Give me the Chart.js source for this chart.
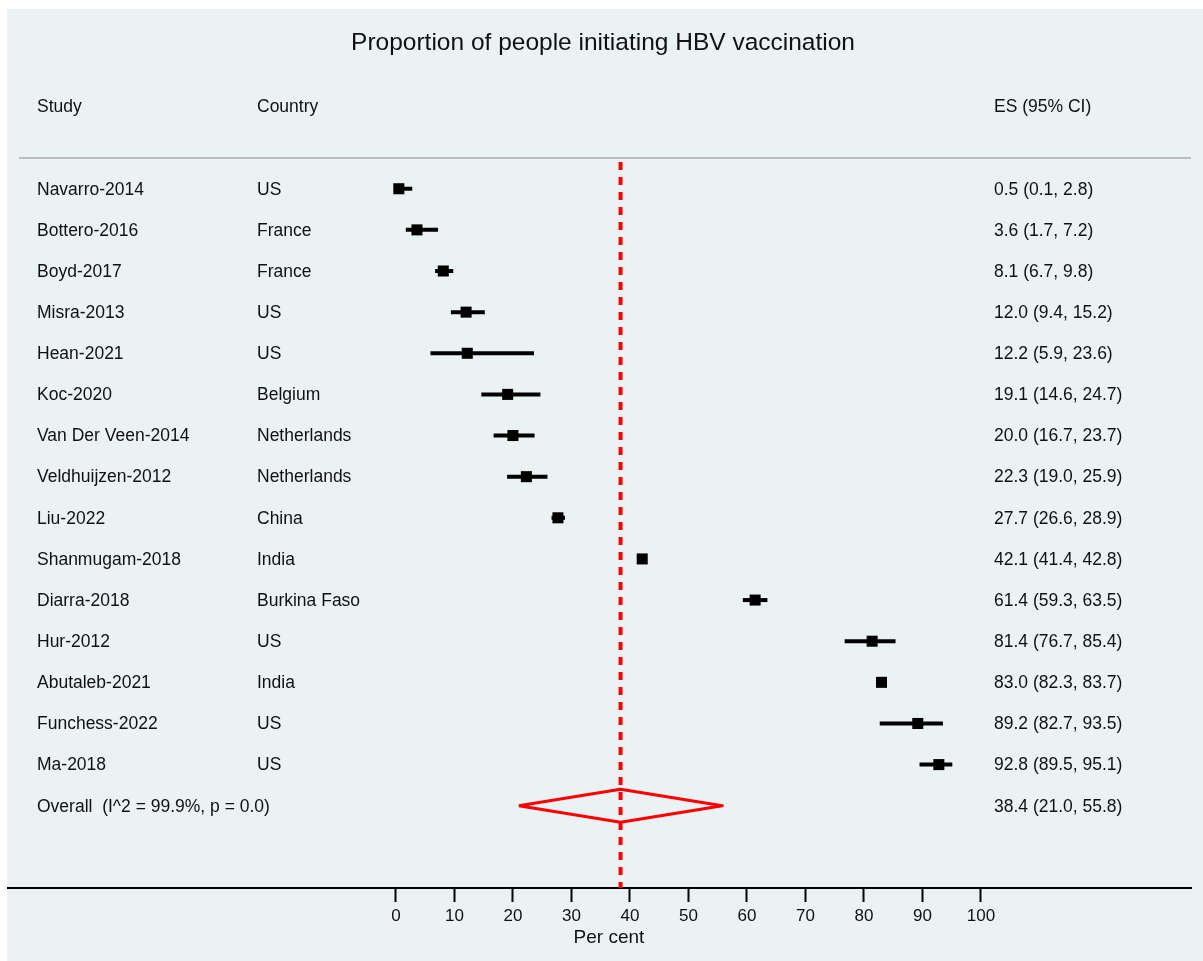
<!DOCTYPE html>
<html>
<head>
<meta charset="utf-8">
<script src="https://cdn.jsdelivr.net/npm/chart.js@4.4.1/dist/chart.umd.min.js"></script>
<style>
  body { margin: 0; background: #fff; }
  canvas { display: block; }
</style>
</head>
<body>
<canvas id="forest" width="1203" height="961"></canvas>
<script>
const studies = ['Navarro-2014', 'Bottero-2016', 'Boyd-2017', 'Misra-2013', 'Hean-2021',
    'Koc-2020', 'Van Der Veen-2014', 'Veldhuijzen-2012', 'Liu-2022', 'Shanmugam-2018',
    'Diarra-2018', 'Hur-2012', 'Abutaleb-2021', 'Funchess-2022', 'Ma-2018'];
const countries = ['US', 'France', 'France', 'US', 'US', 'Belgium', 'Netherlands',
    'Netherlands', 'China', 'India', 'Burkina Faso', 'US', 'India', 'US', 'US'];
const esValues = [0.5, 3.6, 8.1, 12.0, 12.2, 19.1, 20.0, 22.3, 27.7, 42.1, 61.4, 81.4, 83.0, 89.2, 92.8];
const ciLow = [0.1, 1.7, 6.7, 9.4, 5.9, 14.6, 16.7, 19.0, 26.6, 41.4, 59.3, 76.7, 82.3, 82.7, 89.5];
const ciHigh = [2.8, 7.2, 9.8, 15.2, 23.6, 24.7, 23.7, 25.9, 28.9, 42.8, 63.5, 85.4, 83.7, 93.5, 95.1];
const overall = [38.4, 21.0, 55.8]; // es, low, high
const overallLabel = 'Overall  (I^2 = 99.9%, p = 0.0)';
const tickVals = [0, 10, 20, 30, 40, 50, 60, 70, 80, 90, 100];

const FONT = "'Liberation Sans', Arial, sans-serif";
const fmt = (v) => v.toFixed(1);

const overallRow = studies.length;
const yMin = -0.65, yMax = 17.0;

// one short line per confidence interval
const ciSets = studies.map((s, i) => ({
    data: [{ x: ciLow[i], y: i }, { x: ciHigh[i], y: i }],
    showLine: true,
    borderColor: '#000',
    borderWidth: 4,
    borderCapStyle: 'butt',
    pointRadius: 0,
    order: 1
}));

const datasets = [
    {
        data: esValues.map((v, i) => ({ x: v, y: i })),
        pointStyle: 'rect',
        pointRadius: 7.8,
        backgroundColor: '#000',
        borderWidth: 0,
        order: 0
    },
    ...ciSets,
    {
        data: [
            { x: overall[1], y: overallRow },
            { x: overall[0], y: overallRow - 0.4 },
            { x: overall[2], y: overallRow },
            { x: overall[0], y: overallRow + 0.4 },
            { x: overall[1], y: overallRow }
        ],
        showLine: true,
        borderColor: '#ff0000',
        borderWidth: 3,
        borderJoinStyle: 'round',
        pointRadius: 0,
        order: 2
    },
    {
        data: [{ x: overall[0], y: yMin }, { x: overall[0], y: yMax }],
        showLine: true,
        borderColor: '#ff0000',
        borderWidth: 4,
        borderDash: [8, 7],
        borderCapStyle: 'butt',
        pointRadius: 0,
        order: 3
    }
];

const tablePlugin = {
    id: 'tablePlugin',
    beforeDraw(chart) {
        const ctx = chart.ctx;
        ctx.save();
        ctx.fillStyle = '#ffffff';
        ctx.fillRect(0, 0, chart.width, chart.height);
        ctx.fillStyle = '#eaf2f3';
        ctx.fillRect(7, 9, chart.width - 7, chart.height - 9);
        ctx.restore();
    },
    afterDraw(chart) {
        const ctx = chart.ctx;
        const y = chart.scales.y;
        ctx.save();
        ctx.fillStyle = '#111';
        ctx.textBaseline = 'middle';

        // title
        ctx.font = '24.5px ' + FONT;
        ctx.textAlign = 'center';
        ctx.fillText('Proportion of people initiating HBV vaccination', 603, 43);

        ctx.textAlign = 'left';
        ctx.font = '17.5px ' + FONT;
        const hy = y.getPixelForValue(-2) + 1;
        ctx.fillText('Study', 37, hy);
        ctx.fillText('Country', 257, hy);
        ctx.fillText('ES (95% CI)', 994, hy);

        // separator under the header
        ctx.strokeStyle = '#bdbdbd';
        ctx.lineWidth = 2;
        ctx.beginPath();
        ctx.moveTo(19, 158);
        ctx.lineTo(1191, 158);
        ctx.stroke();

        studies.forEach((s, i) => {
            const py = y.getPixelForValue(i) + 1;
            ctx.fillText(s, 37, py);
            ctx.fillText(countries[i], 257, py);
            ctx.fillText(fmt(esValues[i]) + ' (' + fmt(ciLow[i]) + ', ' + fmt(ciHigh[i]) + ')', 994, py);
        });
        const oy = y.getPixelForValue(overallRow) + 1;
        ctx.fillText(overallLabel, 37, oy);
        ctx.fillText(fmt(overall[0]) + ' (' + fmt(overall[1]) + ', ' + fmt(overall[2]) + ')', 994, oy);

        // axis title
        ctx.font = '19px ' + FONT;
        ctx.textAlign = 'center';
        ctx.fillText('Per cent', 609, 938);
        ctx.restore();
    }
};

new Chart(document.getElementById('forest'), {
    type: 'scatter',
    data: { datasets: datasets },
    options: {
        responsive: false,
        animation: false,
        layout: { padding: { top: 162, left: 8, right: 12, bottom: 0 } },
        plugins: {
            legend: { display: false },
            tooltip: { enabled: false },
            title: { display: false }
        },
        scales: {
            x: {
                type: 'linear',
                min: -66.3,
                max: 135.9,
                afterBuildTicks: (s) => { s.ticks = tickVals.map(v => ({ value: v })); },
                afterFit: (s) => { s.height = 73; },
                grid: {
                    display: true,
                    drawOnChartArea: false,
                    drawTicks: true,
                    tickLength: 14,
                    tickWidth: 2,
                    tickColor: '#000'
                },
                border: { display: true, color: '#000', width: 2 },
                ticks: {
                    color: '#111',
                    padding: 4,
                    font: { family: FONT, size: 17 },
                    callback: (v) => v
                }
            },
            y: {
                type: 'linear',
                display: false,
                reverse: true,
                min: yMin,
                max: yMax
            }
        }
    },
    plugins: [tablePlugin]
});
</script>
</body>
</html>
